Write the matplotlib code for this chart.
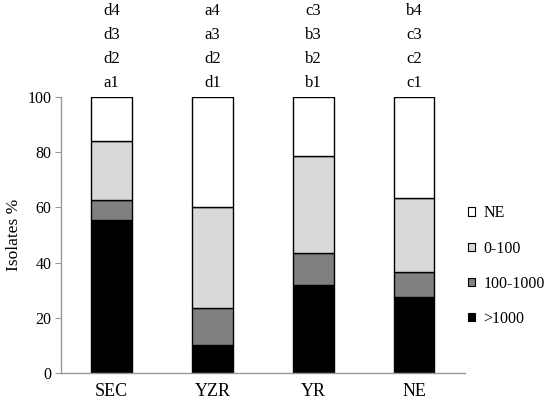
import matplotlib
matplotlib.use("Agg")
import matplotlib.pyplot as plt
from matplotlib.patches import Patch
import numpy as np

categories = ["SEC", "YZR", "YR", "NE"]
gt1000 = [55.3, 10.1, 31.8, 27.5]
r100_1000 = [7.2, 13.4, 11.6, 9.0]
r0_100 = [21.5, 36.5, 35.1, 27.0]
ne = [16.0, 40.0, 21.5, 36.5]

series_names = [">1000", "100-1000", "0-100", "NE"]
series_colors = ["#000000", "#808080", "#d9d9d9", "#ffffff"]

letters_row1 = ["a1", "d1", "b1", "c1"]
letters_row2 = ["d2", "d2", "b2", "c2"]
letters_row3 = ["d3", "a3", "b3", "c3"]
letters_row4 = ["d4", "a4", "c3", "b4"]

yticks = [0, 20, 40, 60, 80, 100]

plt.rcParams['font.family'] = ['Liberation Serif', 'DejaVu Serif']

fig = plt.figure(figsize=(5.5, 3.99), dpi=100)
ax = fig.add_axes([0.111, 0.065, 0.734, 0.692])

x = np.arange(len(categories))
bottom = np.zeros(len(categories))
handles = []
for vals, name, col in zip([gt1000, r100_1000, r0_100, ne], series_names, series_colors):
    ax.bar(x, vals, width=0.4, bottom=bottom, color=col, edgecolor="black", linewidth=1.0, label=name)
    bottom += np.array(vals)
    handles.append(Patch(facecolor=col, edgecolor="black", linewidth=0.8, label=name))

ax.set_xlim(-0.5, 3.5)
ax.set_ylim(0, 100)
ax.set_yticks(yticks)
ax.set_xticks(x)
ax.set_xticklabels(categories, fontsize=13)
ax.tick_params(axis='y', labelsize=11.5, length=4, color="#999999", pad=3)
ax.tick_params(axis='x', length=0, pad=7)
for s in ["top", "right"]:
    ax.spines[s].set_visible(False)
for s in ["left", "bottom"]:
    ax.spines[s].set_color("#999999")
    ax.spines[s].set_linewidth(1.0)
ax.set_ylabel("Isolates %", fontsize=12.5, labelpad=4)

rows = [letters_row1, letters_row2, letters_row3, letters_row4]
row_y = [105.2, 113.9, 122.6, 131.3]
for labels, yy in zip(rows, row_y):
    for xi, lab in zip(x, labels):
        ax.text(xi, yy, lab, ha="center", va="center", fontsize=12, clip_on=False)

leg = ax.legend(handles=handles[::-1], loc="center left",
                bbox_to_anchor=(0.851, 0.333), bbox_transform=fig.transFigure,
                frameon=False, fontsize=11.5, handlelength=0.45, handleheight=0.45,
                handletextpad=0.5, labelspacing=1.2, borderpad=0.0, borderaxespad=0.0)

fig.savefig("out.png", dpi=100)
